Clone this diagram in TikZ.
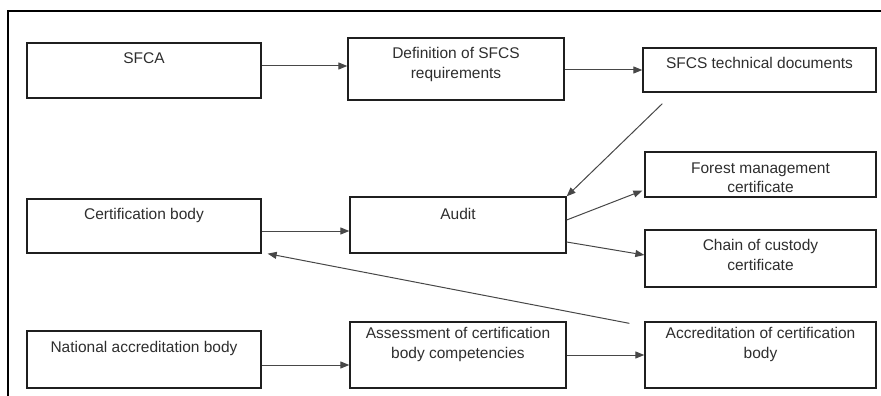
\documentclass[tikz,border=0pt]{standalone}
\usepackage{fontspec}
\setmainfont{Liberation Sans}
\usetikzlibrary{arrows.meta}
\begin{document}
\begin{tikzpicture}[x=1pt,y=-1pt,
  box/.style={draw=black!88, line width=1.3pt, inner sep=0pt},
  lbl/.style={anchor=north, align=center, font=\fontsize{15.5}{19.5}\selectfont, inner sep=0pt, text=black!82},
  conn/.style={draw=black!72, line width=1pt, -{Triangle[length=9pt,width=7pt]}}]
\useasboundingbox (0,0) rectangle (881,396);
\draw[line width=2.7pt] (8,396) -- (8,11) -- (881,11);
% boxes
\node[box, minimum width=234pt, minimum height=55pt] (sfca) at (144,70.5) {};
\node[box, minimum width=216pt, minimum height=62pt] (def) at (456,69) {};
\node[box, minimum width=233pt, minimum height=44pt] (tech) at (759.5,70) {};
\node[box, minimum width=231pt, minimum height=45pt] (forest) at (760.5,174.5) {};
\node[box, minimum width=234pt, minimum height=54pt] (cert) at (144,226) {};
\node[box, minimum width=216pt, minimum height=56pt] (audit) at (458,225) {};
\node[box, minimum width=231pt, minimum height=57pt] (chain) at (760.5,258.5) {};
\node[box, minimum width=234pt, minimum height=57pt] (nat) at (144,359.5) {};
\node[box, minimum width=216pt, minimum height=66pt] (assess) at (458,355) {};
\node[box, minimum width=231pt, minimum height=66pt] (accr) at (760.5,355) {};
% labels
\node[lbl, yshift=-10pt] (tsfca) at (sfca.north) {SFCA};
\node[lbl, yshift=-10pt] (tdef) at (def.north) {Definition of SFCS\\requirements};
\node[lbl, yshift=-10pt] (ttech) at (tech.north) {SFCS technical documents};
\node[lbl, yshift=-11pt] (tforest) at (forest.north) {Forest management\\certificate};
\node[lbl, yshift=-10pt] (tcert) at (cert.north) {Certification body};
\node[lbl, yshift=-12pt] (taudit) at (audit.north) {Audit};
\node[lbl, yshift=-10pt] (tchain) at (chain.north) {Chain of custody\\certificate};
\node[lbl, yshift=-11pt] (tnat) at (nat.north) {National accreditation body};
\node[lbl, yshift=-6pt] (tassess) at (assess.north) {Assessment of certification\\body competencies};
\node[lbl, yshift=-6pt] (taccr) at (accr.north) {Accreditation of certification\\body};
% connectors
\draw[conn] ([yshift=4.5pt]sfca.east) -- ([yshift=4.5pt]sfca.east -| def.west);
\draw[conn] ([yshift=-1pt]def.east) -- ([yshift=-1pt]def.east -| tech.west);
\draw[conn] ([xshift=20pt,yshift=-11pt]tech.south west) -- (audit.north east);
\draw[conn] ([yshift=5pt]audit.east) -- ([xshift=-2pt,yshift=7pt]forest.south west);
\draw[conn] ([yshift=-17pt]audit.east) -- ([yshift=3.5pt]chain.west);
\draw[conn] ([yshift=-5pt]cert.east) -- ([yshift=-5pt]cert.east -| audit.west);
\draw[conn] ([xshift=-15pt,yshift=-2pt]accr.north west) -- ([xshift=6pt]cert.south east);
\draw[conn] ([yshift=-5.5pt]nat.east) -- ([yshift=-5.5pt]nat.east -| assess.west);
\draw[conn] (assess.east) -- (accr.west);
\end{tikzpicture}
\end{document}
